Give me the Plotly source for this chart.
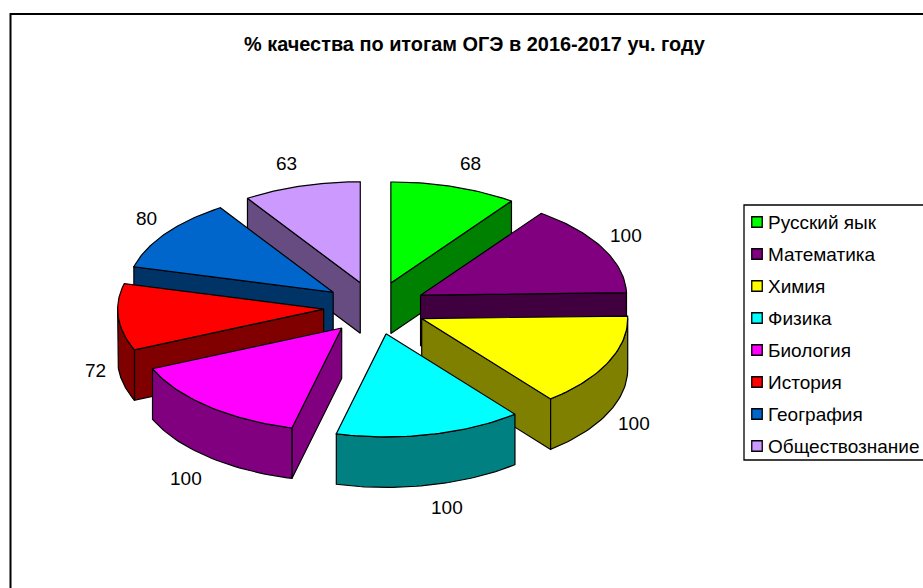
import math
import plotly.graph_objects as go

categories = ["Русский яык", "Математика", "Химия", "Физика", "Биология", "История", "География", "Обществознание"]
values = [68, 100, 100, 100, 100, 72, 80, 63]
top_colors = ["#00FF00", "#800080", "#FFFF00", "#00FFFF", "#FF00FF", "#FF0000", "#0066CC", "#CC99FF"]
side_colors = ["#008000", "#400040", "#808000", "#008080", "#800080", "#800000", "#003366", "#664C80"]
title = "% качества по итогам ОГЭ в 2016-2017 уч. году"

W, H = 923, 588
CX, CY, RX, RY_BACK, RY_FRONT, DEPTH, EXPLODE = 375, 307, 206, 101, 103, 50.5, 0.25
EXPLODE_RY_FRONT = 110
label_pos = [(470, 163), (626, 235), (634, 423), (447, 507), (186, 478), (95, 370), (146, 218), (286, 163)]
FONT = "Liberation Sans, Arial, sans-serif"

fig = go.Figure()


def pt(ox, oy, t, dz=0):
    c = math.cos(t)
    return ox + RX * math.sin(t), oy - (RY_BACK if c > 0 else RY_FRONT) * c + dz


def add_poly(pts, color):
    xs = [p[0] for p in pts] + [pts[0][0]]
    ys = [p[1] for p in pts] + [pts[0][1]]
    fig.add_trace(go.Scatter(x=xs, y=ys, mode="lines", fill="toself", fillcolor=color,
                             line=dict(color="black", width=1.2), hoverinfo="skip", showlegend=False))


total = sum(values)
slices = []
acc = 0
for i, v in enumerate(values):
    a0 = acc / total * 2 * math.pi
    acc += v
    a1 = acc / total * 2 * math.pi
    slices.append((i, a0, a1))

# painter's order: back slices first
order = sorted(slices, key=lambda s: -math.cos((s[1] + s[2]) / 2))
for i, a0, a1 in order:
    mid = (a0 + a1) / 2
    cm = math.cos(mid)
    ox = CX + EXPLODE * RX * math.sin(mid)
    oy = CY - EXPLODE * (RY_BACK if cm > 0 else EXPLODE_RY_FRONT) * cm
    # radial walls facing the viewer
    if math.sin(a0) < 0:
        e = pt(ox, oy, a0)
        add_poly([(ox, oy), e, (e[0], e[1] + DEPTH), (ox, oy + DEPTH)], side_colors[i])
    if math.sin(a1) > 0:
        e = pt(ox, oy, a1)
        add_poly([(ox, oy), e, (e[0], e[1] + DEPTH), (ox, oy + DEPTH)], side_colors[i])
    # outer wall on the front half of the rim
    lo, hi = max(a0, math.pi / 2), min(a1, 3 * math.pi / 2)
    if lo < hi:
        n = 40
        ts = [lo + (hi - lo) * k / n for k in range(n + 1)]
        add_poly([pt(ox, oy, t) for t in ts] + [pt(ox, oy, t, DEPTH) for t in reversed(ts)], side_colors[i])
    # top face
    n = 40
    ts = [a0 + (a1 - a0) * k / n for k in range(n + 1)]
    add_poly([(ox, oy)] + [pt(ox, oy, t) for t in ts], top_colors[i])

annotations = [dict(x=474, y=44, text="<b>" + title + "</b>", showarrow=False, xref="x", yref="y",
                    font=dict(family=FONT, size=19.9, color="black"))]
for (lx, ly), v in zip(label_pos, values):
    annotations.append(dict(x=lx, y=ly, text=str(v), showarrow=False, xref="x", yref="y",
                            font=dict(family=FONT, size=19, color="black")))

# legend
LX0, LY0, LY1 = 744, 205, 460
sw_x, first_y, step = 757, 222, 32
for k, c in enumerate(categories):
    y = first_y + k * step
    fig.add_trace(go.Scatter(x=[sw_x], y=[y], mode="markers", hoverinfo="skip", showlegend=False,
                             marker=dict(symbol="square", size=10.5, color=top_colors[k],
                                         line=dict(color="black", width=1.3))))
    annotations.append(dict(x=766, y=y, text=c, showarrow=False, xanchor="left", xref="x", yref="y",
                            font=dict(family=FONT, size=19, color="black")))

shapes = [
    dict(type="rect", xref="x", yref="y", x0=10.5, y0=14, x1=W + 10, y1=H + 10,
         line=dict(color="black", width=2), layer="below"),
    dict(type="rect", xref="x", yref="y", x0=LX0, y0=LY0, x1=W + 10, y1=LY1,
         line=dict(color="black", width=1.3), layer="below"),
]

fig.update_layout(
    width=W, height=H, margin=dict(l=0, r=0, t=0, b=0), paper_bgcolor="white", plot_bgcolor="white",
    showlegend=False, annotations=annotations, shapes=shapes,
    xaxis=dict(range=[0, W], visible=False, fixedrange=True),
    yaxis=dict(range=[H, 0], visible=False, fixedrange=True),
)
fig.write_html("out.html", config=dict(displayModeBar=False),
               post_script="document.body.style.margin='0';document.body.style.overflow='hidden';")
